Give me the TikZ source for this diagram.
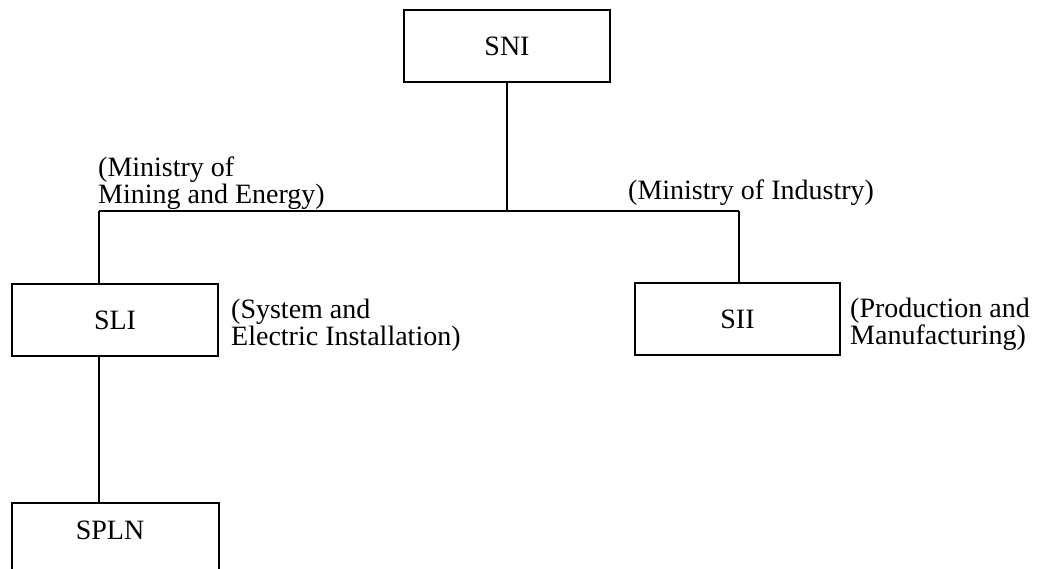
\documentclass[tikz,border=0pt]{standalone}
\usepackage{fontspec}
\setmainfont{Liberation Serif}
\begin{document}
\begin{tikzpicture}[x=1pt,y=-1pt,
  box/.style={draw, line width=1.8pt, minimum width=206pt, minimum height=72pt, inner sep=0pt, font=\fontsize{28}{30}\selectfont},
  boxtext/.style={inner sep=0pt, font=\fontsize{28}{30}\selectfont},
  lbl/.style={anchor=north west, inner sep=0pt, align=left, font=\fontsize{28}{25}\selectfont},
  conn/.style={line width=2.2pt}]
\useasboundingbox (0,0) rectangle (1051,569);
\clip (0,0) rectangle (1051,569);
\node[box] (sni) at (507,46) {SNI};
\node[box] (sli) at (115,320) {SLI};
\node[box, minimum width=205pt] (sii) at (737.5,319) {SII};
\node[box, anchor=north, minimum width=207pt, minimum height=90pt] (spln) at (115.5,502) {};
\node[boxtext] (splntext) at (110,530) {SPLN};
\coordinate (jl) at (99,211);
\coordinate (jr) at (739,211);
\draw[conn] (sni.south) -- (sni.south |- jl);
\draw[conn] (jl) -- (jr);
\draw[conn] (jl) -- (jl |- sli.north);
\draw[conn] (jr) -- (jr |- sii.north);
\draw[conn] (jl |- sli.south) -- (jl |- spln.north);
\node[lbl] (mme) at (98,157) {(Ministry of\\Mining and Energy)};
\node[lbl] (mi) at (628,180) {(Ministry of Industry)};
\node[lbl] (sei) at (231,299) {(System and\\Electric Installation)};
\node[lbl] (pm) at (850,298) {(Production and\\Manufacturing)};
\end{tikzpicture}
\end{document}
